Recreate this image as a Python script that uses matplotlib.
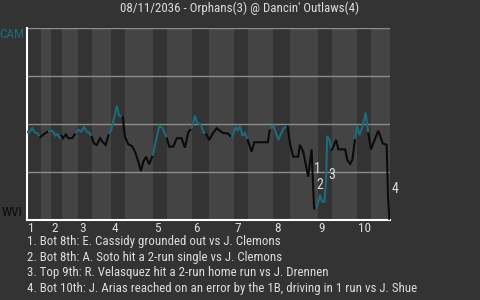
import matplotlib
matplotlib.use("Agg")
import matplotlib.pyplot as plt
import matplotlib.transforms as mtransforms

plt.rcParams['font.family'] = ['Roboto Condensed', 'Roboto', 'DejaVu Sans']

BG = '#333333'
LIGHT = '#444444'
TEAL = '#1f6a7a'
DARK = '#0b0b0b'
TXT = '#dddddd'

title = "08/11/2036 - Orphans(3) @ Dancin' Outlaws(4)"
away_team = "CAM"
home_team = "WVI"

# half-inning boundaries (play index), top halves start at even positions
half_starts = [0, 5.0, 8.6, 12.5, 18.3, 23.3, 30.1, 35.1, 45.2, 50.2, 59.1,
               65.2, 74.2, 79.2, 88.2, 94.3, 104.3, 109.3, 118.3, 123.3]
game_end = 130.1
inning_labels = ['1', '2', '3', '4', '5', '6', '7', '8', '9', '10']

# win probability for the away team after each play
play_x = [0, 0.7, 1.9, 2.8, 3.8, 4.7, 6.1, 7.9, 9.1, 10.3, 10.9, 11.7, 12.3,
          12.9, 13.9, 14.8, 16.2, 17.5, 18.6, 19.5, 20.4, 21.4, 22.3, 23.2,
          24.0, 25.0, 26.2, 27.0, 28.2, 29.4, 30.2, 31.2, 32.2, 33.0, 34.3,
          35.1, 36.3, 37.5, 38.7, 39.9, 40.8, 41.7, 42.7, 43.8, 45.1, 45.9,
          47.4, 48.6, 50.1, 51.0, 52.4, 53.7, 55.4, 56.6, 57.8, 59.0, 60.2,
          61.0, 62.3, 63.2, 64.2, 65.3, 66.6, 68.0, 69.2, 70.4, 72.0, 73.4,
          74.8, 75.5, 76.3, 77.2, 78.1, 79.1, 80.5, 81.5, 82.9, 86.3, 87.1,
          88.3, 90.1, 91.9, 93.4, 94.3, 95.4, 97.2, 97.8, 99.0, 100.3, 100.8,
          102.0, 102.4, 102.9, 103.8, 105.0, 105.8, 106.6, 107.2, 107.6,
          108.4, 109.2, 109.8, 110.8, 111.6, 114.0, 114.8, 115.8, 116.6,
          117.6, 118.3, 119.1, 120.1, 121.4, 122.3, 123.3, 124.1, 125.9,
          127.5, 128.9, 129.4, 129.9]
play_wp = [0.460, 0.455, 0.478, 0.457, 0.451, 0.431, 0.448, 0.464, 0.464,
           0.439, 0.448, 0.429, 0.439, 0.426, 0.446, 0.426, 0.426, 0.455,
           0.469, 0.460, 0.486, 0.460, 0.455, 0.434, 0.399, 0.391, 0.426,
           0.408, 0.391, 0.452, 0.469, 0.530, 0.595, 0.543, 0.538, 0.434,
           0.394, 0.387, 0.356, 0.304, 0.255, 0.304, 0.330, 0.290, 0.339,
           0.391, 0.491, 0.478, 0.426, 0.382, 0.382, 0.426, 0.426, 0.377,
           0.457, 0.478, 0.543, 0.504, 0.498, 0.457, 0.448, 0.417, 0.452,
           0.478, 0.464, 0.452, 0.451, 0.429, 0.486, 0.464, 0.491, 0.439,
           0.453, 0.417, 0.356, 0.405, 0.405, 0.405, 0.478, 0.491, 0.417,
           0.478, 0.486, 0.394, 0.330, 0.330, 0.391, 0.356, 0.260, 0.226,
           0.368, 0.226, 0.061, 0.061, 0.130, 0.095, 0.095, 0.208, 0.438,
           0.417, 0.365, 0.382, 0.417, 0.368, 0.368, 0.313, 0.292, 0.313,
           0.426, 0.495, 0.443, 0.479, 0.559, 0.452, 0.368, 0.399, 0.465,
           0.399, 0.391, 0.121, 0.0]

# key plays: label, x, wp position of the marker text
key_labels = ['1', '2', '3', '4']
key_x = [102.7, 103.8, 108.1, 130.6]
key_wp = [0.264, 0.180, 0.232, 0.160]
notes = [
    "1. Bot 8th: E. Cassidy grounded out vs J. Clemons",
    "2. Bot 8th: A. Soto hit a 2-run single vs J. Clemons",
    "3. Top 9th: R. Velasquez hit a 2-run home run vs J. Drennen",
    "4. Bot 10th: J. Arias reached on an error by the 1B, driving in 1 run vs J. Shue",
]

fig = plt.figure(figsize=(4.8, 3.0), dpi=100, facecolor=BG)
ax = fig.add_axes([27 / 480, 80 / 300, 363 / 480, 192 / 300])
ax.set_facecolor(BG)

bounds = half_starts + [game_end]
for k in range(len(half_starts)):
    if k % 2 == 1:
        ax.axvspan(bounds[k], bounds[k + 1], color=LIGHT, lw=0, zorder=0)

for y in [0.25, 0.5, 0.75, 1.0]:
    ax.axhline(y, color='#8c8c8c', lw=1, zorder=1)

# line coloured by half inning
for k in range(len(half_starts)):
    lo, hi = bounds[k], bounds[k + 1]
    idx = [i for i, x in enumerate(play_x) if lo <= x < hi or (k == len(half_starts) - 1 and x >= lo)]
    if not idx:
        continue
    if idx[0] > 0:
        idx = [idx[0] - 1] + idx
    ax.plot([play_x[i] for i in idx], [play_wp[i] for i in idx],
            color=TEAL if k % 2 == 0 else DARK, lw=1.5, zorder=3,
            solid_joinstyle='miter')

for lab, x, y in zip(key_labels, key_x, key_wp):
    ax.text(x, y, lab, color=TXT, fontsize=10, ha='left', va='center', zorder=4)

ax.set_xlim(0, game_end)
ax.set_ylim(0, 1)
for s in ['top', 'right']:
    ax.spines[s].set_visible(False)
for s in ['left', 'bottom']:
    ax.spines[s].set_color('white')
    ax.spines[s].set_linewidth(1.5)
ax.set_yticks([])
ax.set_xticks([])

trans = mtransforms.blended_transform_factory(ax.transData, ax.transAxes)
for x, lab in zip(half_starts[::2], inning_labels):
    ax.text(x + 0.3, -0.042, lab, transform=trans, color=TXT, fontsize=9.5,
            ha='left', va='center')

fig.text(24 / 480, 1 - 34 / 300, away_team, color=TEAL, fontsize=9.5,
         ha='right', va='center')
fig.text(2 / 480, 1 - 212 / 300, home_team, color=DARK, fontsize=9.5,
         ha='left', va='center')

fig.text(0.5, 1 - 8.5 / 300, title, color=TXT, fontsize=9.3, ha='center', va='center')

for i, line in enumerate(notes):
    fig.text(27 / 480, 1 - (241.5 + i * 15.6) / 300, line, color=TXT,
             fontsize=9.3, ha='left', va='center')

fig.savefig('out.png', dpi=100, facecolor=BG)
